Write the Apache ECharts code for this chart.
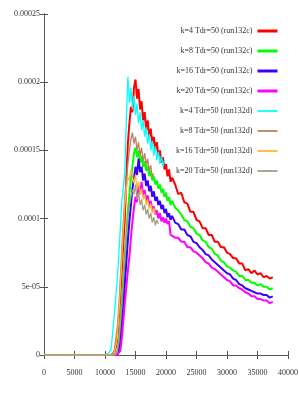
<!DOCTYPE html>
<html>
<head>
<meta charset="utf-8">
<script src="https://cdn.jsdelivr.net/npm/echarts@6/dist/echarts.min.js"></script>
<style>
html,body{margin:0;padding:0;background:#fff;}
#chart{width:299px;height:393px;}
</style>
</head>
<body>
<div id="chart"></div>
<script>
// x positions (time) for run132c series
const xC = [0, 2000, 4000, 6000, 8000, 10000, 10500, 11000, 11500, 12000,
  12250, 12500, 12750, 13000, 13250, 13500, 13750, 14000, 14250, 14500,
  14750, 15000, 15250, 15500, 15750, 16000, 16250, 16500, 16750, 17000,
  17250, 17500, 17750, 18000, 18250, 18500, 18750, 19000, 19250, 19500,
  19750, 20000, 20250, 20500, 20750, 21000, 21500, 22000, 22500, 23000,
  23500, 24000, 24500, 25000, 25500, 26000, 26500, 27000, 27500, 28000,
  28500, 29000, 29500, 30000, 30500, 31000, 31500, 32000, 32500, 33000,
  33500, 34000, 34500, 35000, 35500, 36000, 36500, 37000, 37500];
// x positions (time) for run132d series
const xD = [0, 2000, 4000, 6000, 8000, 10000, 10500, 11000, 11500, 12000,
  12250, 12500, 12750, 13000, 13250, 13500, 13750, 14000, 14250, 14500,
  14750, 15000, 15250, 15500, 15750, 16000, 16250, 16500, 16750, 17000,
  17250, 17500, 17750, 18000, 18250, 18500, 18750, 19000, 19250, 19500, 19750];

const k4c = [0,0,0,0,0,0,0,0,1e-6,10e-6,
  25e-6,40e-6,62e-6,82e-6,100e-6,130e-6,155e-6,170e-6,182e-6,178e-6,
  196e-6,202e-6,188e-6,195e-6,180e-6,186e-6,172e-6,178e-6,165e-6,172e-6,
  160e-6,166e-6,155e-6,160e-6,150e-6,156e-6,146e-6,150e-6,141e-6,145e-6,
  136e-6,140e-6,131e-6,136e-6,127e-6,130e-6,125e-6,118e-6,119e-6,112e-6,
  111e-6,105e-6,105e-6,99e-6,98e-6,93e-6,93e-6,88e-6,88e-6,83e-6,
  83e-6,79e-6,79e-6,75e-6,74e-6,71e-6,71e-6,67e-6,67e-6,62e-6,
  63e-6,60e-6,62e-6,59e-6,60e-6,57e-6,58e-6,56e-6,57e-6];
const k8c = [0,0,0,0,0,0,0,0,0,2e-6,
  8e-6,20e-6,38e-6,55e-6,72e-6,88e-6,105e-6,118e-6,130e-6,138e-6,
  148e-6,152e-6,145e-6,150e-6,141e-6,146e-6,138e-6,142e-6,135e-6,139e-6,
  131e-6,135e-6,128e-6,131e-6,125e-6,128e-6,122e-6,125e-6,119e-6,122e-6,
  116e-6,119e-6,113e-6,116e-6,110e-6,113e-6,108e-6,106e-6,103e-6,99e-6,
  98e-6,94e-6,93e-6,89e-6,88e-6,84e-6,83e-6,79e-6,78e-6,74e-6,
  73e-6,69e-6,68e-6,65e-6,64e-6,62e-6,61e-6,58e-6,58e-6,55e-6,
  55e-6,53e-6,53e-6,51e-6,52e-6,50e-6,50e-6,48e-6,49e-6];
const k16c = [0,0,0,0,0,0,0,0,0,0,
  2e-6,8e-6,20e-6,35e-6,52e-6,68e-6,84e-6,98e-6,110e-6,122e-6,
  130e-6,138e-6,132e-6,144e-6,134e-6,138e-6,128e-6,133e-6,124e-6,128e-6,
  120e-6,124e-6,116e-6,120e-6,113e-6,116e-6,110e-6,113e-6,107e-6,110e-6,
  104e-6,107e-6,101e-6,104e-6,99e-6,102e-6,97e-6,96e-6,92e-6,92e-6,
  88e-6,87e-6,83e-6,82e-6,79e-6,77e-6,74e-6,73e-6,70e-6,68e-6,
  66e-6,64e-6,62e-6,60e-6,59e-6,56e-6,55e-6,52e-6,51e-6,49e-6,
  48e-6,47e-6,46e-6,45e-6,45e-6,44e-6,44e-6,42e-6,43e-6];
const k20c = [0,0,0,0,0,0,0,0,0,0,
  0,3e-6,12e-6,25e-6,38e-6,50e-6,62e-6,72e-6,86e-6,98e-6,
  108e-6,116e-6,112e-6,124e-6,118e-6,127e-6,117e-6,121e-6,113e-6,117e-6,
  109e-6,113e-6,106e-6,109e-6,103e-6,106e-6,100e-6,104e-6,98e-6,101e-6,
  97e-6,100e-6,96e-6,98e-6,88e-6,89e-6,86e-6,86e-6,83e-6,83e-6,
  79e-6,79e-6,76e-6,75e-6,73e-6,71e-6,68e-6,67e-6,64e-6,63e-6,
  61e-6,59e-6,57e-6,55e-6,54e-6,51e-6,51e-6,49e-6,48e-6,46e-6,
  45e-6,43e-6,43e-6,41e-6,41e-6,40e-6,40e-6,38e-6,39e-6];

const k4d = [0,0,0,0,0,0,1e-6,4e-6,28e-6,55e-6,
  72e-6,92e-6,112e-6,122e-6,135e-6,172e-6,204e-6,185e-6,196e-6,180e-6,
  190e-6,176e-6,184e-6,170e-6,178e-6,165e-6,172e-6,160e-6,167e-6,155e-6,
  162e-6,150e-6,157e-6,146e-6,153e-6,143e-6,149e-6,140e-6,146e-6,138e-6,143e-6];
const k8d = [0,0,0,0,0,0,0,0,3e-6,20e-6,
  35e-6,55e-6,78e-6,98e-6,115e-6,128e-6,140e-6,150e-6,158e-6,163e-6,
  155e-6,160e-6,150e-6,156e-6,146e-6,152e-6,142e-6,148e-6,139e-6,144e-6,
  135e-6,139e-6,130e-6,133e-6];
const k16d = [0,0,0,0,0,0,0,0,1e-6,12e-6,
  28e-6,48e-6,70e-6,92e-6,110e-6,122e-6,130e-6,128e-6,136e-6,131e-6,
  126e-6,132e-6,122e-6,127e-6,118e-6,122e-6,114e-6,118e-6,110e-6,114e-6,
  107e-6,111e-6,104e-6,108e-6,103e-6];
const k20d = [0,0,0,0,0,0,0,0,0,2e-6,
  10e-6,25e-6,42e-6,60e-6,76e-6,90e-6,102e-6,110e-6,116e-6,121e-6,
  118e-6,125e-6,114e-6,119e-6,110e-6,114e-6,106e-6,110e-6,103e-6,107e-6,
  100e-6,104e-6,97e-6,101e-6,95e-6,99e-6,96e-6];

const seriesNames = [
  'k=4 Tdr=50 (run132c)', 'k=8 Tdr=50 (run132c)', 'k=16 Tdr=50 (run132c)', 'k=20 Tdr=50 (run132c)',
  'k=4 Tdr=50 (run132d)', 'k=8 Tdr=50 (run132d)', 'k=16 Tdr=50 (run132d)', 'k=20 Tdr=50 (run132d)'
];
const seriesValues = [k4c, k8c, k16c, k20c, k4d, k8d, k16d, k20d];
const seriesX = [xC, xC, xC, xC, xD, xD, xD, xD];
const seriesColors = ['#ff0000', '#00ff00', '#3a00ff', '#ff00ff', '#00ffff', '#c08060', '#ffb833', '#a0a080'];
const seriesWidths = [2, 2, 2, 2, 1.3, 1.3, 1.3, 1.3];
const legendWidths = [3, 3, 3, 3, 1.8, 1.8, 1.8, 1.8];

const yTickLabels = ['0', '5e-05', '0.0001', '0.00015', '0.0002', '0.00025'];
const xTickLabels = ['0', '5000', '10000', '15000', '20000', '25000', '30000', '35000', '40000'];

const FONT = '"Liberation Serif", "DejaVu Serif", serif';
const axisColor = '#555';

const series = seriesNames.map((name, i) => ({
  name: name,
  type: 'line',
  xAxisIndex: 0,
  yAxisIndex: 0,
  showSymbol: false,
  symbol: 'none',
  data: seriesValues[i].map((v, j) => [seriesX[i][j], v]),
  lineStyle: { color: seriesColors[i], width: seriesWidths[i] },
  itemStyle: { color: seriesColors[i] },
  z: 2 + i
}));

const chart = echarts.init(document.getElementById('chart'), null, { renderer: 'canvas' });
chart.setOption({
  animation: false,
  backgroundColor: '#ffffff',
  grid: { left: 44, right: 11, top: 14, bottom: 38, containLabel: false, outerBoundsMode: 'none' },
  legend: {
    orient: 'vertical',
    align: 'right',
    right: 20,
    top: 26,
    itemWidth: 20,
    itemHeight: 10,
    itemGap: 10,
    padding: 0,
    textStyle: { fontFamily: FONT, fontSize: 8, color: '#333', lineHeight: 10 },
    data: seriesNames.map((n, i) => ({
      name: n,
      lineStyle: { width: legendWidths[i] },
      itemStyle: { opacity: 0 }
    }))
  },
  xAxis: [
    {
      type: 'value', min: 0, max: 40000, interval: 5000, position: 'bottom',
      axisLine: { show: true, lineStyle: { color: axisColor, width: 1 } },
      axisTick: { show: true, inside: true, length: 4, lineStyle: { color: axisColor } },
      splitLine: { show: false },
      axisLabel: {
        show: true, margin: 14, fontFamily: FONT, fontSize: 8, color: '#333',
        formatter: v => xTickLabels[Math.round(v / 5000)]
      }
    },
    {
      type: 'value', min: 0, max: 40000, interval: 5000, position: 'top',
      axisLine: { show: true, lineStyle: { color: axisColor, width: 1 } },
      axisTick: { show: true, inside: true, length: 4, lineStyle: { color: axisColor } },
      splitLine: { show: false },
      axisLabel: { show: false }
    }
  ],
  yAxis: [
    {
      type: 'value', min: 0, max: 0.00025, interval: 0.00005, position: 'left',
      axisLine: { show: true, lineStyle: { color: axisColor, width: 1 } },
      axisTick: { show: true, inside: true, length: 4, lineStyle: { color: axisColor } },
      splitLine: { show: false },
      axisLabel: {
        show: true, margin: 4, fontFamily: FONT, fontSize: 8, color: '#333',
        formatter: v => yTickLabels[Math.round(v / 0.00005)]
      }
    },
    {
      type: 'value', min: 0, max: 0.00025, interval: 0.00005, position: 'right',
      axisLine: { show: true, lineStyle: { color: axisColor, width: 1 } },
      axisTick: { show: true, inside: true, length: 4, lineStyle: { color: axisColor } },
      splitLine: { show: false },
      axisLabel: { show: false }
    }
  ],
  series: series
});
</script>
</body>
</html>
